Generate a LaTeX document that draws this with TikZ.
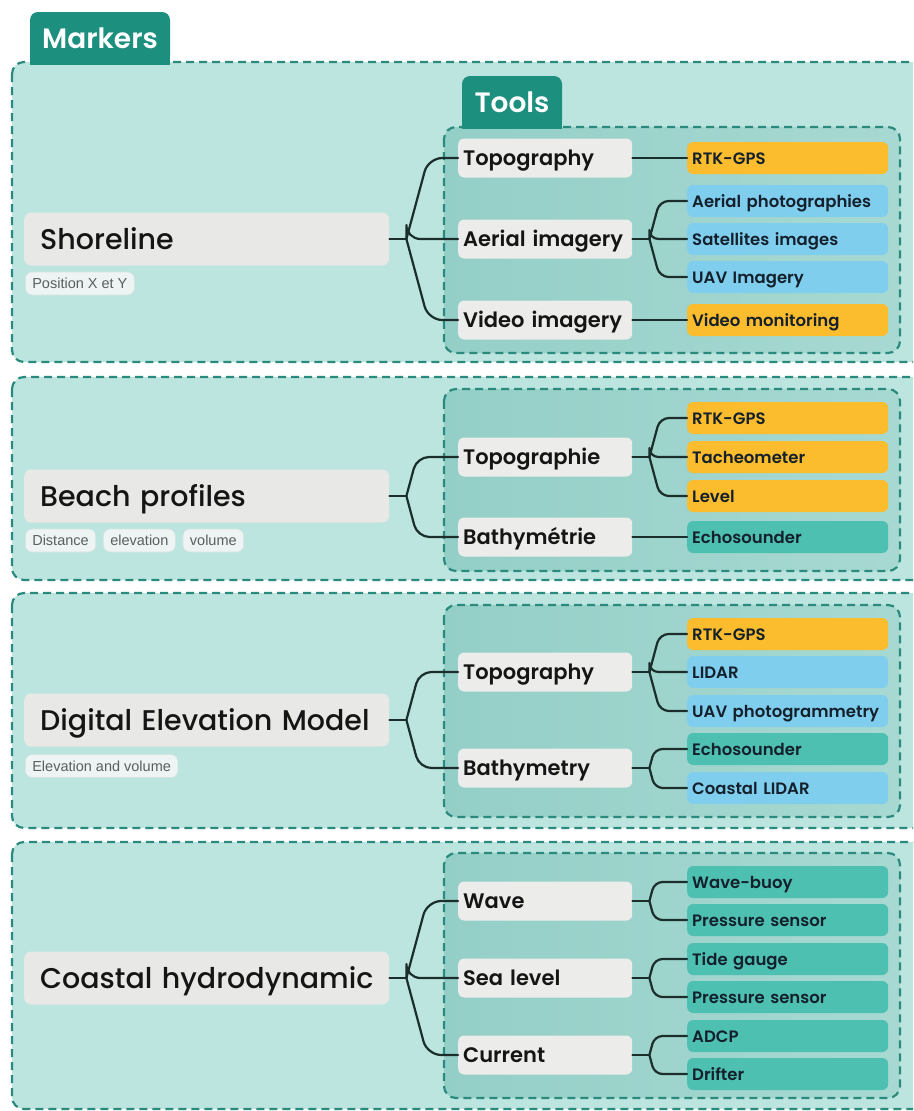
\documentclass[tikz,border=0pt]{standalone}
\usepackage{fontspec}
\setmainfont{Poppins}[UprightFont=* Medium, BoldFont=* SemiBold]
\newfontfamily\tagfont{Liberation Sans}
\usetikzlibrary{calc}

\definecolor{outerfill}{HTML}{BDE5DF}
\definecolor{dashc}{HTML}{2A8A7D}
\definecolor{tabc}{HTML}{1D8F7F}
\definecolor{innerL}{HTML}{94CFC7}
\definecolor{innerR}{HTML}{A7D9D2}
\definecolor{mainfill}{HTML}{E8E8E6}
\definecolor{subfill}{HTML}{ECECEA}
\definecolor{orangefill}{HTML}{FBBD2D}
\definecolor{bluefill}{HTML}{80CEEE}
\definecolor{tealfill}{HTML}{4EC0B2}
\definecolor{linec}{HTML}{1B2E2B}
\definecolor{ink}{HTML}{151515}
\definecolor{leafink}{HTML}{14202B}
\definecolor{tagfill}{HTML}{EDF4F3}
\definecolor{tagline}{HTML}{D6E4E1}
\definecolor{tagink}{HTML}{5A5F5E}

\tikzset{
  outerbox/.style={fill=outerfill, draw=dashc, line width=2.2pt,
    dash pattern=on 8pt off 5pt, rounded corners=12pt},
  innerbox/.style={left color=innerL, right color=innerR, draw=dashc,
    line width=2.2pt, dash pattern=on 8pt off 5pt, rounded corners=12pt},
  tabnode/.style={fill=tabc, text=white, font=\bfseries\fontsize{28}{30}\selectfont,
    rounded corners=8pt, minimum height=52pt, inner sep=0pt},
  oneline/.style={execute at begin node={\hbox\bgroup}, execute at end node={\egroup}},
  mainnode/.style={fill=mainfill, rounded corners=7pt, anchor=west,
    minimum height=53pt, text width=333pt, inner xsep=16pt, inner ysep=0pt,
    text height=20pt, text depth=0pt,
    align=left, font=\fontsize{28.5}{30}\selectfont, text=ink, oneline},
  subnode/.style={fill=subfill, rounded corners=6pt, anchor=west,
    minimum height=39pt, text width=164pt, inner xsep=5pt, inner ysep=0pt,
    text height=15.5pt, text depth=0pt,
    align=left, font=\bfseries\fontsize{21}{23}\selectfont, text=ink, oneline},
  leaf/.style={rounded corners=6pt, anchor=west,
    minimum height=32pt, text width=191pt, inner xsep=5pt, inner ysep=0pt,
    text height=13pt, text depth=0pt,
    align=left, font=\bfseries\fontsize{16.5}{18}\selectfont, text=leafink, oneline},
  tagnode/.style={fill=tagfill, draw=tagline, line width=0.6pt, rounded corners=7pt,
    anchor=west, minimum height=23pt, inner xsep=7pt, inner ysep=0pt,
    font=\tagfont\fontsize{14.5}{16}\selectfont, text=tagink},
  conn/.style={draw=linec, line width=2.2pt, line cap=round, line join=round},
}

% branch from a fork point to the west side of a child node
\newcommand\twig[3]{%
  \draw[conn, rounded corners=#3] let \p1=(#1), \p2=(#2.west),
    \n1={0.27*abs(\y2-\y1)} in (\p1) -- (\x1+\n1,\y2) -- (\p2);}

\begin{document}
\begin{tikzpicture}[x=1pt, y=-1pt]
\fill[white] (0,0) rectangle (913,1111);
\useasboundingbox (0,0) rectangle (913,1111);
\clip (0,0) rectangle (913,1111);

% ---------- Shoreline ----------
\draw[outerbox] (12,62) rectangle (935,362);
\node[tabnode, minimum width=140pt] (markers) at (100,38) {Markers};
\fill[tabc] ($(markers.south west)+(0,-12)$) rectangle ($(markers.south east)+(0,1)$);
\draw[innerbox] (444,127) rectangle (900,353);
\node[tabnode, minimum width=100pt] (tools) at (512,102) {Tools};
\fill[tabc] ($(tools.south west)+(0,-12)$) rectangle ($(tools.south east)+(0,1)$);

\node[mainnode] (shore) at (24,239) {Shoreline};
\node[tagnode] (posxy) at (25,283.5) {Position X et Y};
\node[subnode] (topo1) at (458,158) {Topography};
\node[subnode] (aer) at (458,239) {Aerial imagery};
\node[subnode] (vid) at (458,320) {Video imagery};
\node[leaf, fill=orangefill] (rtk1) at (687,158) {RTK-GPS};
\node[leaf, fill=bluefill] (aph) at (687,201) {Aerial photographies};
\node[leaf, fill=bluefill] (sat) at (687,239) {Satellites images};
\node[leaf, fill=bluefill] (uav1) at (687,277) {UAV Imagery};
\node[leaf, fill=orangefill] (vmon) at (687,320) {Video monitoring};

\coordinate (fs) at ($(shore.east)+(17,0)$);
\coordinate (fa) at ($(aer.east)+(17,0)$);
\draw[conn] (shore.east) -- (fs);
\twig{fs}{topo1}{14}\twig{fs}{aer}{14}\twig{fs}{vid}{14}
\draw[conn] (topo1.east) -- (rtk1.west);
\draw[conn] (aer.east) -- (fa);
\twig{fa}{aph}{9}\twig{fa}{sat}{9}\twig{fa}{uav1}{9}
\draw[conn] (vid.east) -- (vmon.west);

% ---------- Beach profiles ----------
\draw[outerbox] (12,377) rectangle (935,580);
\draw[innerbox] (444,389) rectangle (900,571);
\node[mainnode] (beach) at (24,496) {Beach profiles};
\node[tagnode] (tdist) at (25,540.5) {Distance};
\node[tagnode] (telev) at ($(tdist.east)+(7,0)$) {elevation};
\node[tagnode] (tvol) at ($(telev.east)+(7,0)$) {volume};
\node[subnode] (topo2) at (458,457) {Topographie};
\node[subnode] (bath2) at (458,537) {Bathymétrie};
\node[leaf, fill=orangefill] (rtk2) at (687,418) {RTK-GPS};
\node[leaf, fill=orangefill] (tach) at (687,457) {Tacheometer};
\node[leaf, fill=orangefill] (lev) at (687,496) {Level};
\node[leaf, fill=tealfill] (echo2) at (687,537) {Echosounder};

\coordinate (fb) at ($(beach.east)+(17,0)$);
\coordinate (ft2) at ($(topo2.east)+(17,0)$);
\draw[conn] (beach.east) -- (fb);
\twig{fb}{topo2}{12}\twig{fb}{bath2}{12}
\draw[conn] (topo2.east) -- (ft2);
\twig{ft2}{rtk2}{9}\twig{ft2}{tach}{9}\twig{ft2}{lev}{9}
\draw[conn] (bath2.east) -- (echo2.west);

% ---------- Digital Elevation Model ----------
\draw[outerbox] (12,593) rectangle (935,828);
\draw[innerbox] (444,605) rectangle (900,817);
\node[mainnode] (dem) at (24,720) {Digital Elevation Model};
\node[tagnode] (telvol) at (25,766) {Elevation and volume};
\node[subnode] (topo3) at (458,672) {Topography};
\node[subnode] (bath3) at (458,768) {Bathymetry};
\node[leaf, fill=orangefill] (rtk3) at (687,634) {RTK-GPS};
\node[leaf, fill=bluefill] (lidar) at (687,672) {LIDAR};
\node[leaf, fill=bluefill] (uavp) at (687,711) {UAV photogrammetry};
\node[leaf, fill=tealfill] (echo3) at (687,749) {Echosounder};
\node[leaf, fill=bluefill] (clidar) at (687,788) {Coastal LIDAR};

\coordinate (fd) at ($(dem.east)+(17,0)$);
\coordinate (ft3) at ($(topo3.east)+(17,0)$);
\coordinate (fb3) at ($(bath3.east)+(17,0)$);
\draw[conn] (dem.east) -- (fd);
\twig{fd}{topo3}{12}\twig{fd}{bath3}{12}
\draw[conn] (topo3.east) -- (ft3);
\twig{ft3}{rtk3}{9}\twig{ft3}{lidar}{9}\twig{ft3}{uavp}{9}
\draw[conn] (bath3.east) -- (fb3);
\twig{fb3}{echo3}{8}\twig{fb3}{clidar}{8}

% ---------- Coastal hydrodynamic ----------
\draw[outerbox] (12,842) rectangle (935,1109);
\draw[innerbox] (444,853) rectangle (900,1098);
\node[mainnode] (hydro) at (24,978) {Coastal hydrodynamic};
\node[subnode] (wave) at (458,901) {Wave};
\node[subnode] (sea) at (458,978) {Sea level};
\node[subnode] (curr) at (458,1055) {Current};
\node[leaf, fill=tealfill] (buoy) at (687,882) {Wave-buoy};
\node[leaf, fill=tealfill] (pres1) at (687,920) {Pressure sensor};
\node[leaf, fill=tealfill] (tide) at (687,959) {Tide gauge};
\node[leaf, fill=tealfill] (pres2) at (687,997) {Pressure sensor};
\node[leaf, fill=tealfill] (adcp) at (687,1036) {ADCP};
\node[leaf, fill=tealfill] (drift) at (687,1074) {Drifter};

\coordinate (fh) at ($(hydro.east)+(17,0)$);
\coordinate (fw) at ($(wave.east)+(17,0)$);
\coordinate (fsl) at ($(sea.east)+(17,0)$);
\coordinate (fc) at ($(curr.east)+(17,0)$);
\draw[conn] (hydro.east) -- (fh);
\twig{fh}{wave}{14}\twig{fh}{sea}{14}\twig{fh}{curr}{14}
\draw[conn] (wave.east) -- (fw);
\twig{fw}{buoy}{8}\twig{fw}{pres1}{8}
\draw[conn] (sea.east) -- (fsl);
\twig{fsl}{tide}{8}\twig{fsl}{pres2}{8}
\draw[conn] (curr.east) -- (fc);
\twig{fc}{adcp}{8}\twig{fc}{drift}{8}
\end{tikzpicture}
\end{document}
